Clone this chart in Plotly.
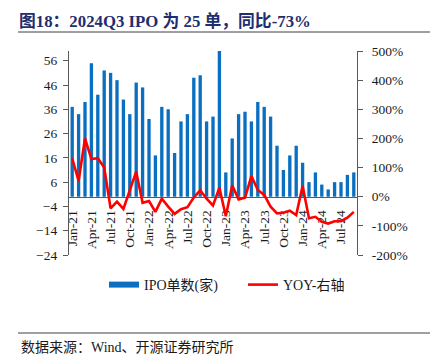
import plotly.graph_objects as go

# ---- data ----
months = [f"{m}-{y}" for y in ["21", "22", "23", "24"]
          for m in ["Jan", "Feb", "Mar", "Apr", "May", "Jun", "Jul", "Aug", "Sep", "Oct", "Nov", "Dec"]][:45]
ipo_counts = [37, 34, 39, 55, 42, 52, 51, 48, 40, 34, 47, 45,
              32, 17, 37, 36, 18, 31, 34, 49, 50, 31, 33, 60,
              10, 24, 34, 35, 31, 39, 37, 33, 21, 11, 17, 21,
              14, 6, 10, 5, 3, 6, 6, 9, 10]
yoy_pct = [132, 54, 200, 129, 132, 100, -40, -17, -42, 25, 86, -21,
           -15, -52, -7, -34, -59, -43, -36, -3, 22, -7, -30, 31,
           -67, 39, -9, -3, 71, 23, 6, -34, -57, -55, -48, -63,
           37, -74, -69, -86, -92, -84, -84, -72, -52]
x_tick_labels = months[::3]
left_ticks = list(range(-24, 57, 10))
right_ticks = list(range(-200, 501, 100))

BLUE = "#0B6FC1"
RED = "#FF0000"
AXIS = "#595959"
FONT = "Liberation Serif, Noto Sans CJK SC, serif"

W, H = 431, 360
L, R, T, B = 69, 74, 51, 105
PW, PH = W - L - R, H - T - B


def px_x(px):
    return (px - L) / PW


def px_y(py):
    return (H - B - py) / PH


fig = go.Figure()
fig.add_trace(go.Bar(x=months, y=ipo_counts, marker_color=BLUE, marker_line_width=0,
                     name="IPO单数(家)", showlegend=False, yaxis="y"))
# legend-only entry drawn as a wide swatch
fig.add_trace(go.Scatter(x=[None], y=[None], mode="lines", line=dict(color=BLUE, width=6),
                         name="IPO单数(家)", yaxis="y"))
fig.add_trace(go.Scatter(x=months, y=yoy_pct, mode="lines", line=dict(color=RED, width=2.6),
                         name="YOY-右轴", yaxis="y2"))

fig.update_layout(
    width=W, height=H,
    margin=dict(l=L, r=R, t=T, b=B, pad=0),
    paper_bgcolor="white", plot_bgcolor="white",
    font=dict(family=FONT, size=13.5, color="#1a1a1a"),
    bargap=0.48,
    title=dict(text="<b>图18：2024Q3 IPO 为 25 单，同比-73%</b>",
               xref="container", yref="container", x=19 / W, xanchor="left",
               y=1 - 21 / H, yanchor="middle",
               font=dict(family=FONT, size=16.8, color="#1F2E6E")),
    xaxis=dict(type="category", categoryorder="array", categoryarray=months,
               range=[-0.5, len(months) - 0.5],
               tickmode="array", tickvals=x_tick_labels, ticktext=x_tick_labels,
               tickangle=-90, showline=True, linecolor=AXIS, linewidth=1.3,
               ticks="", showgrid=False, zeroline=False, ticklabelstandoff=7,
               anchor="free", position=24 / 84, layer="below traces",
               tickfont=dict(family=FONT, size=13.5)),
    yaxis=dict(range=[-24, 60], tickmode="array", tickvals=left_ticks,
               showline=True, linecolor=AXIS, linewidth=1.3, ticks="outside",
               ticklen=5, tickcolor=AXIS, showgrid=False, zeroline=False,
               ticklabelstandoff=3, tickfont=dict(family=FONT, size=13.5)),
    yaxis2=dict(range=[-200, 500], tickmode="array", tickvals=right_ticks,
                ticktext=[f"{v}%" for v in right_ticks],
                overlaying="y", side="right", showline=True, linecolor=AXIS,
                linewidth=1.3, ticks="outside", ticklen=5, tickcolor=AXIS,
                showgrid=False, zeroline=False, ticklabelstandoff=6,
                tickfont=dict(family=FONT, size=13.5)),
    legend=dict(orientation="h", x=px_x(104), xanchor="left", y=px_y(285), yanchor="middle",
                font=dict(family=FONT, size=14), itemwidth=30, bgcolor="rgba(0,0,0,0)",
                tracegroupgap=0, entrywidth=94, entrywidthmode="pixels"),
    shapes=[
        dict(type="line", xref="paper", yref="paper", x0=px_x(18), x1=px_x(430),
             y0=px_y(32), y1=px_y(32), line=dict(color="#404040", width=1)),
        dict(type="line", xref="paper", yref="paper", x0=px_x(18), x1=px_x(430),
             y0=px_y(333), y1=px_y(333), line=dict(color="#404040", width=1)),
    ],
    annotations=[
        dict(text="数据来源：Wind、开源证券研究所", xref="paper", yref="paper",
             x=px_x(19), y=px_y(347), xanchor="left", yanchor="middle", showarrow=False,
             font=dict(family=FONT, size=14, color="#1a1a1a")),
    ],
)

fig.write_html("out.html", config={"displayModeBar": False},
               post_script="document.body.style.margin='0px';")
